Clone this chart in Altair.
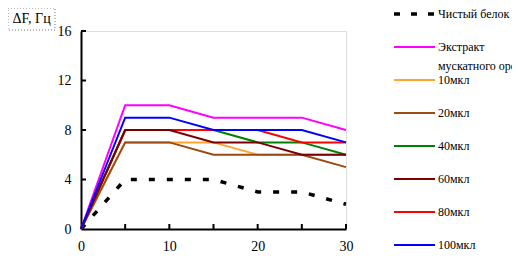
import altair as alt
import pandas as pd

# ---------------- data ----------------
times = [0, 5, 10, 15, 20, 25, 30]
pure_protein = [0, 4, 4, 4, 3, 3, 2]
nutmeg_extract = [0, 10, 10, 9, 9, 9, 8]
ul10 = [0, 7, 7, 7, 6, 6, 6]
ul20 = [0, 7, 7, 6, 6, 6, 5]
ul40 = [0, 8, 8, 8, 7, 7, 6]
ul60 = [0, 8, 8, 7, 7, 6, 6]
ul80 = [0, 8, 8, 8, 8, 7, 7]
ul100 = [0, 9, 9, 8, 8, 8, 7]

series_names = ["Чистый белок", "Экстракт мускатного ореха", "10мкл", "20мкл",
                "40мкл", "60мкл", "80мкл", "100мкл"]
series_values = [pure_protein, nutmeg_extract, ul10, ul20, ul40, ul60, ul80, ul100]
label_line1 = ["Чистый белок", "Экстракт", "10мкл", "20мкл", "40мкл", "60мкл", "80мкл", "100мкл"]
label_line2 = ["", "мускатного ореха", "", "", "", "", "", ""]
colors = ["#000000", "#FF00FF", "#FFA630", "#9C4A10", "#008000", "#7A0000", "#FF0000", "#0000FF"]
draw_order = [0, 1, 2, 3, 4, 6, 5, 7]

x_ticks = [5, 10, 15, 20, 25, 30]
y_ticks = [4, 8, 12, 16]
x_labels = [0, 10, 20, 30]
y_labels = [0, 4, 8, 12, 16]
y_title = "ΔF, Гц"

FONT = "Liberation Serif"
W, H = 265, 198

xscale = alt.Scale(domain=[0, 30], nice=False, zero=False)
yscale = alt.Scale(domain=[0, 16], nice=False)
xaxis = alt.Axis(values=x_labels, ticks=False, grid=False, labelPadding=10, title=None,
                 domainColor="black", domainWidth=2, labelFontSize=14, labelFont=FONT,
                 labelColor="black", labelBaseline="top", labelFlush=False)
yaxis = alt.Axis(values=y_labels, ticks=False, grid=False, labelPadding=10, title=None,
                 domainColor="black", domainWidth=2, labelFontSize=14, labelFont=FONT,
                 labelColor="black")

X = alt.X("t:Q", scale=xscale, axis=xaxis)
Y = alt.Y("v:Q", scale=yscale, axis=yaxis)

layers = []
for i in draw_order:
    df = pd.DataFrame({"t": times, "v": series_values[i]})
    if i == 0:
        mk = alt.Chart(df).mark_line(color=colors[i], strokeWidth=3.5, strokeDash=[6, 12])
    else:
        mk = alt.Chart(df).mark_line(color=colors[i], strokeWidth=2)
    layers.append(mk.encode(x=X, y=Y))

xt = alt.Chart(pd.DataFrame({"t": x_ticks, "v": [0] * len(x_ticks)})).mark_rule(
    color="black", strokeWidth=2).encode(x=X, y=alt.value(H), y2=alt.value(H - 5))
yt = alt.Chart(pd.DataFrame({"v": y_ticks, "t": [0] * len(y_ticks)})).mark_rule(
    color="black", strokeWidth=2).encode(y=Y, x=alt.value(0), x2=alt.value(5))

tdf = pd.DataFrame({"txt": [y_title]})
box = alt.Chart(tdf).mark_rect(fill="white", stroke="#777777", strokeDash=[1, 2], strokeWidth=1).encode(
    x=alt.value(-73), x2=alt.value(-26), y=alt.value(-23), y2=alt.value(-1))
btxt = alt.Chart(tdf).mark_text(font=FONT, fontSize=14, color="black").encode(
    text="txt:N", x=alt.value(-49.5), y=alt.value(-12))

main = alt.layer(*layers, xt, yt, box, btxt)

# ---------------- legend (own y scale, entry index) ----------------
ldf = pd.DataFrame({"idx": list(range(len(series_names))), "name": series_names,
                    "l1": label_line1, "l2": label_line2})
yleg = alt.Y("idx:Q", scale=alt.Scale(domain=[0, 7], range=[-17, 214], nice=False, zero=False),
             axis=None)
leg_layers = []
for i in range(len(series_names)):
    sub = ldf.iloc[[i]]
    if i == 0:
        r = alt.Chart(sub).mark_rule(color=colors[i], strokeWidth=3.5, strokeDash=[6, 11])
    else:
        r = alt.Chart(sub).mark_rule(color=colors[i], strokeWidth=2)
    leg_layers.append(r.encode(y=yleg, x=alt.value(313), x2=alt.value(354)))

t1 = alt.Chart(ldf).mark_text(font=FONT, fontSize=12, align="left", baseline="middle",
                              color="black").encode(y=yleg, x=alt.value(357), text="l1:N")
t2 = alt.Chart(ldf).mark_text(font=FONT, fontSize=12, align="left", baseline="middle",
                              color="black", dy=19).encode(y=yleg, x=alt.value(357), text="l2:N")

legend = alt.layer(*leg_layers, t1, t2)

chart = alt.layer(main, legend).resolve_scale(x="independent", y="independent").properties(
    width=W, height=H,
    autosize=alt.AutoSizeParams(type="none"),
    padding={"left": 73, "top": 23, "right": 166, "bottom": 23},
).configure_view(stroke=None).configure(font=FONT)

chart.save("out.html", embed_options={"renderer": "svg", "actions": False})
